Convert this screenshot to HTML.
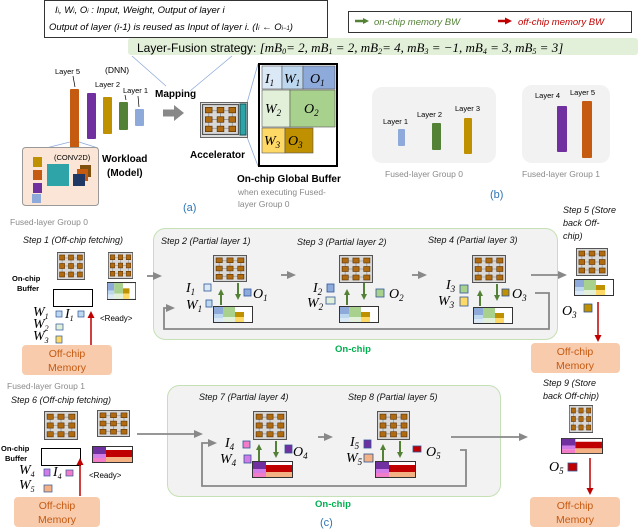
<!DOCTYPE html>
<html><head><meta charset="utf-8"><style>
html,body{margin:0;padding:0;background:#fff;}
svg{display:block;}
text{font-family:"Liberation Sans",sans-serif;}
.it{font-style:italic;}
.m{font-family:"Liberation Serif",serif;font-style:italic;font-size:14px;}
.s{font-size:9px;font-style:italic;fill:#111;}
.g{fill:#8a8a8a;}
.om{font-size:10.5px;fill:#c55a11;}
</style></head><body>
<svg width="640" height="532" viewBox="0 0 640 532" xmlns="http://www.w3.org/2000/svg">
<defs>
<symbol id="chip" viewBox="0 0 33 28" preserveAspectRatio="none">
<rect x="0.5" y="0.5" width="32" height="27" fill="#d8d8d8" stroke="#555" stroke-width="1"/>
<path d="M6 4V24M16.5 4V24M27 4V24M3 6H30M3 14H30M3 22H30" stroke="#9a9a9a" stroke-width="0.8"/>
<g fill="#b06a10" stroke="#5a3000" stroke-width="0.6">
<rect x="3" y="3" width="6" height="5"/><rect x="13.5" y="3" width="6" height="5"/><rect x="24" y="3" width="6" height="5"/>
<rect x="3" y="11.5" width="6" height="5"/><rect x="13.5" y="11.5" width="6" height="5"/><rect x="24" y="11.5" width="6" height="5"/>
<rect x="3" y="20" width="6" height="5"/><rect x="13.5" y="20" width="6" height="5"/><rect x="24" y="20" width="6" height="5"/>
</g></symbol>
<symbol id="buf0" viewBox="0 0 40 17" preserveAspectRatio="none">
<rect x="0.5" y="0.5" width="39" height="16" fill="#fff" stroke="#333"/>
<rect x="1" y="1" width="9" height="7" fill="#8eaadb"/><rect x="1" y="8" width="9" height="4" fill="#bdd7ee"/><rect x="1" y="12" width="9" height="4" fill="#dbe8f5"/>
<rect x="10" y="1" width="12" height="10" fill="#a9d18e"/><rect x="10" y="11" width="12" height="5" fill="#e2f0d9"/>
<rect x="22" y="6" width="9" height="5" fill="#bf9000"/><rect x="22" y="11" width="9" height="5" fill="#ffd966"/>
</symbol>
<symbol id="buf1" viewBox="0 0 41 17" preserveAspectRatio="none">
<rect x="0.5" y="0.5" width="40" height="16" fill="#fff" stroke="#333"/>
<rect x="1" y="1" width="13" height="7" fill="#7030a0"/><rect x="1" y="8" width="13" height="4" fill="#d27ce8"/><rect x="1" y="12" width="13" height="4" fill="#f27cc8"/>
<rect x="14" y="4" width="26" height="7" fill="#c00000"/><rect x="14" y="11" width="26" height="5" fill="#f4b183"/>
</symbol>
<marker id="ag" markerWidth="6" markerHeight="6" refX="3" refY="3" orient="auto" markerUnits="userSpaceOnUse"><path d="M0 0L6 3L0 6z" fill="#538135"/></marker>
<marker id="ar" markerWidth="7" markerHeight="7" refX="3" refY="3.5" orient="auto" markerUnits="userSpaceOnUse"><path d="M0 0L7 3.5L0 7z" fill="#c00000"/></marker>
<marker id="ay" markerWidth="9" markerHeight="8" refX="4" refY="4" orient="auto" markerUnits="userSpaceOnUse"><path d="M0 0L9 4L0 8z" fill="#888"/></marker>
</defs>

<rect x="44.5" y="0.5" width="283" height="37" fill="#fff" stroke="#333"/>
<text x="55" y="13" font-size="9.5" class="it">I<tspan font-size="6">i</tspan>, W<tspan font-size="6">i</tspan>, O<tspan font-size="6">i</tspan> : Input, Weight, Output of layer i</text>
<text x="49" y="30" font-size="9.5" class="it">Output of layer (i-1) is reused as Input of layer i. (I<tspan font-size="6">i</tspan> ← O<tspan font-size="6">i−1</tspan>)</text>
<rect x="348.5" y="11.5" width="283" height="21" fill="#fff" stroke="#333"/>
<path d="M355 21H366" stroke="#538135" stroke-width="2.5" marker-end="url(#ag)"/>
<text x="374" y="25" font-size="9.5" class="it" fill="#538135">on-chip memory BW</text>
<path d="M498 21H508" stroke="#c00000" stroke-width="2.5" marker-end="url(#ar)"/>
<text x="518" y="25" font-size="9.5" class="it" fill="#c00000">off-chip memory BW</text>
<rect x="128" y="38" width="510" height="17" rx="3" fill="#e2efd9"/>
<text x="137" y="52" font-size="12">Layer-Fusion strategy:  <tspan font-family="Liberation Serif" font-style="italic" font-size="13">[mB<tspan font-size="8" dy="2">0</tspan><tspan dy="-2">= 2,  mB</tspan><tspan font-size="8" dy="2">1</tspan><tspan dy="-2"> = 2,  mB</tspan><tspan font-size="8" dy="2">2</tspan><tspan dy="-2">= 4,  mB</tspan><tspan font-size="8" dy="2">3</tspan><tspan dy="-2"> = −1,  mB</tspan><tspan font-size="8" dy="2">4</tspan><tspan dy="-2"> = 3,  mB</tspan><tspan font-size="8" dy="2">5</tspan><tspan dy="-2"> = 3]</tspan></tspan></text>

<path d="M132 56L166 86M232 56L190 91M247 103L258 64M247 137L258 166M46 148L70 142M79 142L98 148" stroke="#8eaadb" stroke-width="0.8" fill="none"/>
<text x="55" y="74" font-size="7.5">Layer 5</text>
<text x="105" y="73" font-size="8.5">(DNN)</text>
<text x="95" y="87" font-size="7.5">Layer 2</text>
<text x="123" y="93" font-size="7.5">Layer 1</text>
<rect x="70" y="89" width="9" height="59" rx="1" fill="#c55a11"/>
<rect x="87" y="93" width="9" height="46" rx="1" fill="#7030a0"/>
<rect x="103" y="97" width="9" height="37" rx="1" fill="#bf9000"/>
<rect x="119" y="102" width="9" height="28" rx="1" fill="#538135"/>
<rect x="135" y="109" width="9" height="17" rx="1" fill="#8eaadb"/>
<path d="M73 76L75 87M125 95L126 100M138 96L139 107" stroke="#000" stroke-width="0.7"/>
<rect x="22.5" y="147.5" width="76" height="58" rx="3" fill="#fbe5d6" stroke="#999"/>
<text x="54" y="160" font-size="7.5">(CONV2D)</text>
<rect x="33" y="157" width="9" height="10" fill="#bf9000"/><rect x="33" y="170" width="9" height="10" fill="#c55a11"/><rect x="33" y="183" width="9" height="10" fill="#7030a0"/><rect x="32" y="194" width="9" height="9" fill="#8eaadb"/>
<rect x="47" y="164" width="22" height="22" fill="#2ea3a8"/>
<rect x="80" y="165" width="11" height="12" fill="#7f4f10"/><rect x="77" y="169" width="11" height="12" fill="#c55a11"/><rect x="73" y="174" width="12" height="12" fill="#1f3864"/>
<text x="102" y="162" font-size="10" font-weight="bold">Workload</text>
<text x="107" y="176" font-size="10" font-weight="bold">(Model)</text>
<text x="155" y="97" font-size="10" font-weight="bold">Mapping</text>
<path d="M163 113H175" stroke="#888" stroke-width="7"/><path d="M174 105L184 113L174 121z" fill="#888"/>
<rect x="200.5" y="102.5" width="47" height="35" fill="#ddd" stroke="#666"/>
<use href="#chip" x="202" y="104" width="37" height="31"/>
<rect x="240" y="104" width="6" height="31" fill="#2ea3a8" stroke="#155"/>
<text x="190" y="158" font-size="10" font-weight="bold">Accelerator</text>
<rect x="259" y="64" width="78" height="102" fill="#fff" stroke="#000" stroke-width="2"/>
<rect x="262" y="66" width="20" height="23" fill="#dbe8f5" stroke="#555" stroke-width="0.6"/>
<rect x="282" y="66" width="21" height="23" fill="#bdd7ee" stroke="#555" stroke-width="0.6"/>
<rect x="303" y="66" width="32" height="23" fill="#8eaadb" stroke="#555" stroke-width="0.6"/>
<rect x="262" y="90" width="28" height="37" fill="#e2f0d9" stroke="#555" stroke-width="0.6"/>
<rect x="290" y="90" width="45" height="37" fill="#a9d18e" stroke="#555" stroke-width="0.6"/>
<rect x="262" y="128" width="23" height="25" fill="#ffd966" stroke="#555" stroke-width="0.6"/>
<rect x="285" y="128" width="28" height="25" fill="#bf9000" stroke="#555" stroke-width="0.6"/>
<text x="265" y="83" class="m">I<tspan font-size="9" dy="3">1</tspan></text>
<text x="284" y="83" class="m">W<tspan font-size="9" dy="3">1</tspan></text>
<text x="310" y="83" class="m">O<tspan font-size="9" dy="3">1</tspan></text>
<text x="265" y="113" class="m">W<tspan font-size="9" dy="3">2</tspan></text>
<text x="304" y="113" class="m">O<tspan font-size="9" dy="3">2</tspan></text>
<text x="264" y="145" class="m">W<tspan font-size="9" dy="3">3</tspan></text>
<text x="288" y="145" class="m">O<tspan font-size="9" dy="3">3</tspan></text>
<text x="237" y="182" font-size="10" font-weight="bold">On-chip Global Buffer</text>
<text x="238" y="195" font-size="8.5" class="g">when executing Fused-</text>
<text x="238" y="207" font-size="8.5" class="g">layer Group 0</text>
<text x="183" y="211" font-size="11" fill="#2e75b6">(a)</text>
<rect x="372" y="87" width="124" height="76" rx="10" fill="#f2f2f2"/>
<text x="383" y="124" font-size="7.5">Layer 1</text><text x="417" y="117" font-size="7.5">Layer 2</text><text x="455" y="111" font-size="7.5">Layer 3</text>
<rect x="398" y="129" width="7" height="17" rx="1" fill="#8eaadb"/>
<rect x="432" y="123" width="9" height="27" rx="1" fill="#538135"/>
<rect x="464" y="118" width="8" height="36" rx="1" fill="#bf9000"/>
<text x="385" y="177" font-size="8.5" class="g">Fused-layer Group 0</text>
<rect x="522" y="85" width="88" height="78" rx="10" fill="#f2f2f2"/>
<text x="535" y="98" font-size="7.5">Layer 4</text><text x="570" y="95" font-size="7.5">Layer 5</text>
<rect x="557" y="106" width="10" height="46" rx="1" fill="#7030a0"/>
<rect x="582" y="101" width="10" height="57" rx="1" fill="#c55a11"/>
<text x="522" y="177" font-size="8.5" class="g">Fused-layer Group 1</text>
<text x="490" y="198" font-size="11" fill="#2e75b6">(b)</text>

<text x="10" y="225" font-size="8.5" class="g">Fused-layer Group 0</text>
<text x="23" y="243" class="s">Step 1 (Off-chip fetching)</text>
<rect x="153.5" y="228.5" width="404" height="111" rx="12" fill="#f2f2f2" stroke="#c5e0b4"/>
<text x="335" y="352" font-size="9.5" font-weight="bold" fill="#00b050">On-chip</text>
<use href="#chip" x="57" y="252" width="28" height="28"/>
<use href="#chip" x="108" y="252" width="25" height="27"/>
<use href="#buf0" x="107" y="282" width="29" height="18"/>
<text x="12" y="281" font-size="7.5" font-weight="bold">On-chip</text>
<text x="17" y="291" font-size="7.5" font-weight="bold">Buffer</text>
<rect x="53.5" y="289.5" width="39" height="17" fill="#fff" stroke="#000"/>
<text x="33" y="316" class="m" font-size="12">W<tspan font-size="8" dy="3">1</tspan></text>
<rect x="56" y="311" width="6" height="6" fill="#bdd7ee" stroke="#2e5597" stroke-width="0.7"/>
<text x="65" y="318" class="m" font-size="12">I<tspan font-size="8" dy="3">1</tspan></text>
<rect x="78" y="311" width="6" height="6" fill="#bdd7ee" stroke="#2e5597" stroke-width="0.7"/>
<text x="33" y="328" class="m" font-size="12">W<tspan font-size="8" dy="3">2</tspan></text>
<rect x="56" y="324" width="7" height="6" fill="#e2f0d9" stroke="#2e5597" stroke-width="0.7"/>
<text x="33" y="340" class="m" font-size="12">W<tspan font-size="8" dy="3">3</tspan></text>
<rect x="56" y="336" width="6" height="7" fill="#ffd966" stroke="#2e5597" stroke-width="0.7"/>
<text x="100" y="321" font-size="8">&lt;Ready&gt;</text>
<path d="M91 345V315" stroke="#c00000" stroke-width="1.5" marker-end="url(#ar)"/>
<rect x="22" y="345" width="90" height="30" rx="4" fill="#f8cbad"/>
<text x="67" y="357" class="om" text-anchor="middle">Off-chip</text>
<text x="67" y="371" class="om" text-anchor="middle">Memory</text>
<path d="M147 276H157" stroke="#888" stroke-width="1.8" marker-end="url(#ay)"/>
<path d="M535 293H549V329H164V308H170" stroke="#888" stroke-width="1.8" fill="none" marker-end="url(#ay)"/>
<text x="161" y="244" class="s">Step 2 (Partial layer 1)</text>
<text x="297" y="245" class="s">Step 3 (Partial layer 2)</text>
<text x="428" y="243" class="s">Step 4 (Partial layer 3)</text>
<use href="#chip" x="213" y="255" width="34" height="27"/>
<use href="#chip" x="339" y="255" width="34" height="28"/>
<use href="#chip" x="472" y="255" width="34" height="28"/>
<use href="#buf0" x="213" y="306" width="40" height="17"/>
<use href="#buf0" x="339" y="306" width="40" height="17"/>
<use href="#buf0" x="473" y="307" width="40" height="17"/>
<g stroke="#538135" stroke-width="2">
<path d="M221 305V292" marker-end="url(#ag)"/><path d="M238 283V297" marker-end="url(#ag)"/>
<path d="M347 305V292" marker-end="url(#ag)"/><path d="M364 283V297" marker-end="url(#ag)"/>
<path d="M480 306V293" marker-end="url(#ag)"/><path d="M497 284V298" marker-end="url(#ag)"/>
</g>
<path d="M281 275H291" stroke="#888" stroke-width="1.8" marker-end="url(#ay)"/>
<path d="M412 275H422" stroke="#888" stroke-width="1.8" marker-end="url(#ay)"/>
<text x="186" y="292" class="m">I<tspan font-size="9" dy="3">1</tspan></text>
<rect x="204" y="284" width="7" height="7" fill="#dbe8f5" stroke="#2e5597" stroke-width="0.8"/>
<text x="186" y="309" class="m">W<tspan font-size="9" dy="3">1</tspan></text>
<rect x="206" y="300" width="6" height="7" fill="#bdd7ee" stroke="#2e5597" stroke-width="0.8"/>
<rect x="244" y="289" width="7" height="7" fill="#8eaadb" stroke="#2e5597" stroke-width="0.8"/>
<text x="253" y="298" class="m">O<tspan font-size="9" dy="3">1</tspan></text>
<text x="313" y="292" class="m">I<tspan font-size="9" dy="3">2</tspan></text>
<rect x="327" y="284" width="7" height="8" fill="#8eaadb" stroke="#2e5597" stroke-width="0.8"/>
<text x="307" y="307" class="m">W<tspan font-size="9" dy="3">2</tspan></text>
<rect x="326" y="297" width="9" height="7" fill="#e2f0d9" stroke="#2e5597" stroke-width="0.8"/>
<rect x="376" y="289" width="8" height="8" fill="#a9d18e" stroke="#2e5597" stroke-width="0.8"/>
<text x="389" y="298" class="m">O<tspan font-size="9" dy="3">2</tspan></text>
<text x="446" y="289" class="m">I<tspan font-size="9" dy="3">3</tspan></text>
<rect x="460" y="285" width="8" height="8" fill="#a9d18e" stroke="#2e5597" stroke-width="0.8"/>
<text x="438" y="305" class="m">W<tspan font-size="9" dy="3">3</tspan></text>
<rect x="460" y="297" width="8" height="9" fill="#ffd966" stroke="#2e5597" stroke-width="0.8"/>
<rect x="502" y="289" width="7" height="7" fill="#bf9000" stroke="#2e5597" stroke-width="0.8"/>
<text x="512" y="298" class="m">O<tspan font-size="9" dy="3">3</tspan></text>
<path d="M531 275H562" stroke="#888" stroke-width="1.8" marker-end="url(#ay)"/>
<text x="563" y="213" class="s">Step 5 (Store</text>
<text x="563" y="226" class="s">back Off-</text>
<text x="563" y="239" class="s">chip)</text>
<use href="#chip" x="576" y="248" width="32" height="28"/>
<use href="#buf0" x="574" y="279" width="40" height="17"/>
<text x="562" y="315" class="m">O<tspan font-size="9" dy="3">3</tspan></text>
<rect x="584" y="304" width="8" height="8" fill="#bf9000" stroke="#2e5597" stroke-width="0.8"/>
<path d="M598 302V338" stroke="#c00000" stroke-width="1.5" marker-end="url(#ar)"/>
<rect x="531" y="343" width="89" height="30" rx="4" fill="#f8cbad"/>
<text x="575" y="355" class="om" text-anchor="middle">Off-chip</text>
<text x="575" y="369" class="om" text-anchor="middle">Memory</text>

<text x="7" y="389" font-size="8.5" class="g">Fused-layer Group 1</text>
<text x="11" y="403" class="s">Step 6 (Off-chip fetching)</text>
<rect x="167.5" y="385.5" width="333" height="111" rx="12" fill="#f2f2f2" stroke="#c5e0b4"/>
<text x="315" y="507" font-size="9.5" font-weight="bold" fill="#00b050">On-chip</text>
<use href="#chip" x="44" y="411" width="34" height="29"/>
<use href="#chip" x="97" y="410" width="33" height="27"/>
<use href="#buf1" x="92" y="446" width="41" height="17"/>
<text x="1" y="451" font-size="7.5" font-weight="bold">On-chip</text>
<text x="5" y="461" font-size="7.5" font-weight="bold">Buffer</text>
<rect x="41.5" y="448.5" width="39" height="17" fill="#fff" stroke="#000"/>
<text x="19" y="474" class="m" font-size="12">W<tspan font-size="8" dy="3">4</tspan></text>
<rect x="44" y="469" width="6" height="7" fill="#d27ce8" stroke="#2e5597" stroke-width="0.7"/>
<text x="53" y="476" class="m" font-size="12">I<tspan font-size="8" dy="3">4</tspan></text>
<rect x="66" y="470" width="7" height="6" fill="#f27cc8" stroke="#2e5597" stroke-width="0.7"/>
<text x="19" y="489" class="m" font-size="12">W<tspan font-size="8" dy="3">5</tspan></text>
<rect x="44" y="485" width="8" height="7" fill="#f4b183" stroke="#2e5597" stroke-width="0.7"/>
<text x="89" y="478" font-size="8">&lt;Ready&gt;</text>
<path d="M80 496V462" stroke="#c00000" stroke-width="1.5" marker-end="url(#ar)"/>
<rect x="14" y="497" width="86" height="30" rx="4" fill="#f8cbad"/>
<text x="57" y="509" class="om" text-anchor="middle">Off-chip</text>
<text x="57" y="523" class="om" text-anchor="middle">Memory</text>
<path d="M137 434H198" stroke="#888" stroke-width="1.8" marker-end="url(#ay)"/>
<path d="M460 450H466V486H202V443H212" stroke="#888" stroke-width="1.8" fill="none" marker-end="url(#ay)"/>
<text x="199" y="400" class="s">Step 7 (Partial layer 4)</text>
<text x="348" y="400" class="s">Step 8 (Partial layer 5)</text>
<use href="#chip" x="253" y="411" width="34" height="29"/>
<use href="#chip" x="377" y="411" width="33" height="29"/>
<use href="#buf1" x="252" y="461" width="41" height="17"/>
<use href="#buf1" x="375" y="461" width="41" height="17"/>
<g stroke="#538135" stroke-width="2">
<path d="M259 461V447" marker-end="url(#ag)"/><path d="M276 441V455" marker-end="url(#ag)"/>
<path d="M383 461V447" marker-end="url(#ag)"/><path d="M400 441V455" marker-end="url(#ag)"/>
</g>
<path d="M318 437H328" stroke="#888" stroke-width="1.8" marker-end="url(#ay)"/>
<text x="225" y="447" class="m">I<tspan font-size="9" dy="3">4</tspan></text>
<rect x="243" y="441" width="7" height="7" fill="#f27cc8" stroke="#2e5597" stroke-width="0.8"/>
<text x="220" y="463" class="m">W<tspan font-size="9" dy="3">4</tspan></text>
<rect x="244" y="455" width="7" height="8" fill="#d27ce8" stroke="#2e5597" stroke-width="0.8"/>
<rect x="285" y="445" width="7" height="8" fill="#7030a0" stroke="#2e5597" stroke-width="0.8"/>
<text x="293" y="456" class="m">O<tspan font-size="9" dy="3">4</tspan></text>
<text x="350" y="446" class="m">I<tspan font-size="9" dy="3">5</tspan></text>
<rect x="364" y="440" width="7" height="8" fill="#7030a0" stroke="#2e5597" stroke-width="0.8"/>
<text x="346" y="462" class="m">W<tspan font-size="9" dy="3">5</tspan></text>
<rect x="364" y="454" width="9" height="8" fill="#f4b183" stroke="#2e5597" stroke-width="0.8"/>
<rect x="413" y="446" width="8" height="6" fill="#c00000" stroke="#2e5597" stroke-width="0.8"/>
<text x="426" y="456" class="m">O<tspan font-size="9" dy="3">5</tspan></text>
<path d="M451 437H523" stroke="#888" stroke-width="1.8" marker-end="url(#ay)"/>
<text x="543" y="386" class="s">Step 9 (Store</text>
<text x="543" y="399" class="s">back Off-chip)</text>
<use href="#chip" x="569" y="405" width="24" height="28"/>
<use href="#buf1" x="561" y="438" width="42" height="16"/>
<text x="549" y="471" class="m">O<tspan font-size="9" dy="3">5</tspan></text>
<rect x="568" y="463" width="9" height="8" fill="#c00000" stroke="#2e5597" stroke-width="0.8"/>
<path d="M590 458V491" stroke="#c00000" stroke-width="1.5" marker-end="url(#ar)"/>
<rect x="530" y="497" width="90" height="30" rx="4" fill="#f8cbad"/>
<text x="575" y="509" class="om" text-anchor="middle">Off-chip</text>
<text x="575" y="523" class="om" text-anchor="middle">Memory</text>
<text x="320" y="526" font-size="11" fill="#2e75b6">(c)</text>
</svg>
</body></html>
